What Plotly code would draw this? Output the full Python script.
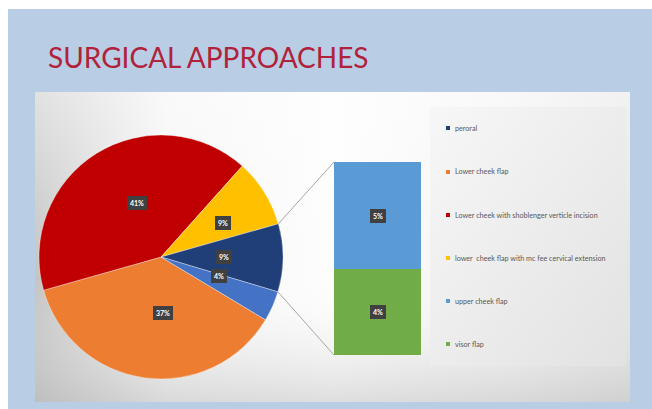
import math
import urllib.parse
import plotly.graph_objects as go

W, H = 652, 409

# Main pie (clockwise order); the "Other" slice is split out in the bar on the right
pie_labels = ["Lower cheek flap", "Lower cheek with shoblenger verticle incision",
              "lower  cheek flap with mc fee cervical extension", "Other", "peroral"]
pie_values = [37, 41, 9, 9, 4]
pie_text = ["37%", "41%", "9%", "9%", "4%"]
pie_colors = ["#ED7D31", "#C00000", "#FFC000", "#203F78", "#4472C4"]

# Secondary stacked bar (breakdown of "Other")
bar_labels = ["visor flap", "upper cheek flap"]
bar_values = [4, 5]
bar_text = ["4%", "5%"]
bar_colors = ["#70AD47", "#5B9BD5"]

legend_labels = ["peroral", "Lower cheek flap", "Lower cheek with shoblenger verticle incision",
                 "lower  cheek flap with mc fee cervical extension", "upper cheek flap", "visor flap"]
legend_colors = ["#203F78", "#ED7D31", "#C00000", "#FFC000", "#5B9BD5", "#70AD47"]

title_text = "SURGICAL APPROACHES"

# geometry helpers (pixels -> paper)
def px(x):
    return x / W

def py(y):
    return 1 - y / H

cx, cy, R = 161, 257, 122
rotation = 121
other_index = 3
bar_left, bar_right, bar_top, bar_bottom = 334, 421, 162, 355

fig = go.Figure()

fig.add_trace(go.Pie(
    labels=pie_labels, values=pie_values, sort=False, direction="clockwise",
    rotation=rotation, textinfo="none", hoverinfo="label+percent",
    marker=dict(colors=pie_colors, line=dict(color="rgba(255,255,255,0.6)", width=0.6)),
    domain=dict(x=[px(cx - R), px(cx + R)], y=[py(cy + R), py(cy - R)]),
    showlegend=False,
))

# stacked bar
for lab, val, col in zip(bar_labels, bar_values, bar_colors):
    fig.add_trace(go.Bar(
        x=[0], y=[val], name=lab, marker=dict(color=col, line=dict(width=0)),
        width=1, showlegend=False, xaxis="x", yaxis="y",
    ))

annotations = []
shapes = []

# slide background, chart area and legend panel, drawn as one gradient image
bg_svg = (
    f"<svg xmlns='http://www.w3.org/2000/svg' width='{W}' height='{H}' viewBox='0 0 {W} {H}'>"
    "<defs>"
    "<linearGradient id='h' x1='0' y1='0' x2='1' y2='0'>"
    "<stop offset='0' stop-color='#c4c4c4'/><stop offset='0.22' stop-color='#f4f4f4'/>"
    "<stop offset='0.5' stop-color='#fdfdfd'/><stop offset='0.8' stop-color='#f2f2f2'/>"
    "<stop offset='1' stop-color='#e4e4e4'/></linearGradient>"
    "<linearGradient id='v' x1='0' y1='0' x2='0' y2='1'>"
    "<stop offset='0' stop-color='#ffffff' stop-opacity='0.5'/><stop offset='0.6' stop-color='#ffffff' stop-opacity='0'/>"
    "<stop offset='1' stop-color='#b8b8b8' stop-opacity='0.45'/></linearGradient>"
    "<linearGradient id='l' x1='0' y1='0' x2='1' y2='1'>"
    "<stop offset='0' stop-color='#f7f7f7'/><stop offset='1' stop-color='#e2e2e2'/></linearGradient>"
    "</defs>"
    f"<rect width='{W}' height='{H}' fill='#ffffff'/>"
    "<rect x='8' y='9' width='644' height='400' fill='#B9CDE5'/>"
    "<rect x='35' y='92' width='595' height='310' fill='url(#h)'/>"
    "<rect x='35' y='92' width='595' height='310' fill='url(#v)'/>"
    "<rect x='430' y='107' width='196' height='259' fill='url(#l)'/>"
    "</svg>"
)
bg_uri = "data:image/svg+xml;charset=utf-8," + urllib.parse.quote(bg_svg)

images = [dict(source=bg_uri, xref="paper", yref="paper", x=0, y=1, sizex=1, sizey=1,
               sizing="stretch", xanchor="left", yanchor="top", layer="below")]

# pie data labels, placed at the middle of each slice
total = sum(pie_values)
angle = rotation
edges = []
for val, txt in zip(pie_values, pie_text):
    span = 360 * val / total
    edges.append((angle, angle + span))
    mid = math.radians(angle + span / 2)
    lx = cx + 0.52 * R * math.sin(mid)
    ly = cy - 0.52 * R * math.cos(mid)
    annotations.append(dict(x=px(lx), y=py(ly), xref="paper", yref="paper", text="<b>" + txt + "</b>",
                            showarrow=False, font=dict(family="Lato, Arial", size=7, color="white"),
                            bgcolor="#404040", borderpad=2, bordercolor="#404040"))
    angle += span

# connector lines from the "Other" slice to the bar
a0, a1 = edges[other_index]
for a, by in ((a0, bar_top), (a1, bar_bottom)):
    r = math.radians(a)
    ex, ey = cx + R * math.sin(r), cy - R * math.cos(r)
    shapes.append(dict(type="line", xref="paper", yref="paper", x0=px(ex), y0=py(ey),
                       x1=px(bar_left), y1=py(by), line=dict(color="#a6a6a6", width=1)))

# bar labels
base = 0
for val, txt in zip(bar_values, bar_text):
    annotations.append(dict(x=0, y=base + val / 2, xref="x", yref="y", text="<b>" + txt + "</b>",
                            showarrow=False, font=dict(family="Lato, Arial", size=7, color="white"),
                            bgcolor="#404040", borderpad=2, bordercolor="#404040"))
    base += val

# legend
leg_y = [128, 172, 215, 258, 301, 344]
for lab, col, y in zip(legend_labels, legend_colors, leg_y):
    shapes.append(dict(type="rect", xref="paper", yref="paper", x0=px(446), x1=px(450),
                       y0=py(y + 2), y1=py(y - 2), fillcolor=col, line=dict(width=0)))
    annotations.append(dict(x=px(452.5), y=py(y), xref="paper", yref="paper", text=lab,
                            xanchor="left", yanchor="middle", showarrow=False,
                            font=dict(family="Lato, Arial", size=7.2, color="#595959")))

# title
annotations.append(dict(x=px(46), y=py(57), xref="paper", yref="paper", text=title_text,
                        xanchor="left", yanchor="middle", showarrow=False,
                        font=dict(family="Lato, Arial", size=28, color="#B0223A")))

fig.update_layout(
    width=W, height=H, margin=dict(l=0, r=0, t=0, b=0),
    paper_bgcolor="white", plot_bgcolor="rgba(0,0,0,0)",
    barmode="stack", bargap=0,
    xaxis=dict(domain=[px(bar_left), px(bar_right)], range=[-0.5, 0.5], visible=False, fixedrange=True),
    yaxis=dict(domain=[py(bar_bottom), py(bar_top)], range=[0, sum(bar_values)], visible=False, fixedrange=True),
    shapes=shapes, annotations=annotations, images=images,
)

fig.write_html("out.html")
